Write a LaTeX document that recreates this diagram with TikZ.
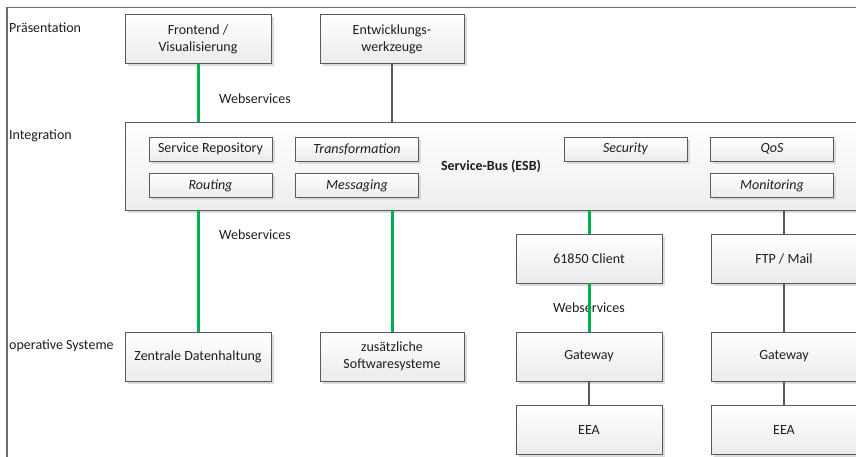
\documentclass[tikz,border=0pt]{standalone}
\usepackage{fontspec}
\setmainfont{Carlito}
\usetikzlibrary{shadows}
\definecolor{boxline}{HTML}{5A5A5A}
\definecolor{linkgreen}{HTML}{00B050}
\definecolor{linkgray}{HTML}{595959}
\definecolor{boxbot}{HTML}{EBEBEB}
\definecolor{busbot}{HTML}{EEEEEE}
\definecolor{framegray}{HTML}{6E6E6E}
\definecolor{txt}{HTML}{1E1E1E}
\begin{document}
\begin{tikzpicture}[x=1pt,y=-1pt,
  every node/.style={text=txt, font=\fontsize{14}{17}\selectfont},
  shade/.style={drop shadow={shadow xshift=2.5pt, shadow yshift=-2.5pt, fill=black!14, opacity=1}},
  sysbox/.style={draw=boxline, line width=0.9pt, top color=white, bottom color=boxbot,
    minimum width=146pt, minimum height=49pt, inner sep=0pt, align=center, shade},
  modbox/.style={draw=boxline, line width=0.9pt, top color=white, bottom color=boxbot,
    minimum width=123pt, minimum height=24pt, inner sep=0pt, shade},
  layer/.style={anchor=west, inner sep=0pt},
  wslink/.style={draw=linkgreen, line width=3pt},
  plainlink/.style={draw=linkgray, line width=1.4pt},
  lbl/.style={inner sep=1pt}
]
\clip (0,0) rectangle (856,456);
\fill[white] (0,0) rectangle (856,456);

% outer frame
\draw[framegray, line width=1.6pt] (7,470) -- (7,7.5) -- (870,7.5);

% layer names
\node[layer] (lpres) at (9,28) {Präsentation};
\node[layer] (lint) at (9,136) {Integration};
\node[layer] (lops) at (9,346) {operative Systeme};

% presentation layer
\node[sysbox] (frontend) at (198,39) {Frontend /\\Visualisierung};
\node[sysbox, minimum width=144pt] (tools) at (392,39) {Entwicklungs-\\werkzeuge};

% enterprise service bus
\node[draw=boxline, line width=0.9pt, top color=white, bottom color=busbot,
  minimum width=755pt, minimum height=88pt, inner sep=0pt, shade] (bus) at (502.5,166) {};
\node[modbox] (repo) at (210.5,149) {Service Repository};
\node[modbox] (transf) at (357,149) {\itshape Transformation};
\node[modbox] (routing) at (210.5,185.5) {\itshape Routing};
\node[modbox] (messaging) at (357,185.5) {\itshape Messaging};
\node[modbox] (security) at (625.5,149) {\itshape Security};
\node[modbox] (qos) at (772,149) {\itshape QoS};
\node[modbox] (monitoring) at (772,185.5) {\itshape Monitoring};
\node[lbl] (esb) at (491,166) {\bfseries Service-Bus (ESB)};

% adapters and operative systems
\node[sysbox] (client) at (589,258.5) {61850 Client};
\node[sysbox] (ftp) at (784,258.5) {FTP / Mail};
\node[sysbox] (central) at (198,356.5) {Zentrale Datenhaltung};
\node[sysbox, minimum width=144pt] (extra) at (392,356.5) {zusätzliche\\Softwaresysteme};
\node[sysbox] (gw1) at (589,356.5) {Gateway};
\node[sysbox] (gw2) at (784,356.5) {Gateway};
\node[sysbox] (eea1) at (589,430) {EEA};
\node[sysbox] (eea2) at (784,430) {EEA};

% protocol labels
\node[lbl] (ws1) at (255,99) {Webservices};
\node[lbl] (ws2) at (255,235) {Webservices};
\node[lbl] (ws3) at (589,308) {Webservices};

% connectors
\path[wslink] (frontend.south) -- (frontend.south |- bus.north);
\path[plainlink] (tools.south) -- (tools.south |- bus.north);
\path[wslink] (central.north |- bus.south) -- (central.north);
\path[wslink] (extra.north |- bus.south) -- (extra.north);
\path[wslink] (client.north |- bus.south) -- (client.north);
\path[plainlink] (ftp.north |- bus.south) -- (ftp.north);
\path[wslink] (client.south) -- (gw1.north);
\path[plainlink] (ftp.south) -- (gw2.north);
\path[plainlink] (gw1.south) -- (eea1.north);
\path[plainlink] (gw2.south) -- (eea2.north);
\end{tikzpicture}
\end{document}
